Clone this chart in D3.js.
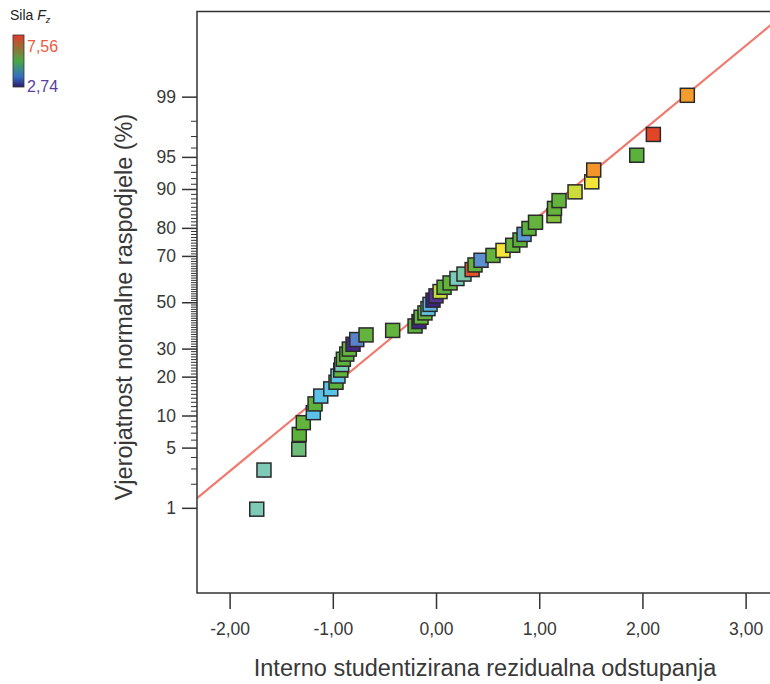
<!DOCTYPE html>
<html><head><meta charset="utf-8">
<script src="https://cdn.jsdelivr.net/npm/d3@7"></script>
<style>body{margin:0;background:#fff}svg{display:block;font-family:"Liberation Sans",Arial,Helvetica,sans-serif}</style>
</head><body><svg id="chart" width="770" height="684"></svg>
<script>
// ---- data, ordered by rank ----
const residuals = [-1.737,-1.667,-1.330,-1.325,-1.286,-1.189,-1.172,-1.117,-1.020,-0.969,
  -0.950,-0.923,-0.914,-0.898,-0.865,-0.840,-0.804,-0.768,-0.678,-0.420,
  -0.203,-0.165,-0.145,-0.107,-0.078,-0.058,-0.029,0.000,0.039,0.078,
  0.136,0.203,0.271,0.350,0.378,0.436,0.552,0.649,0.743,0.814,
  0.853,0.901,0.964,1.143,1.148,1.192,1.347,1.509,1.528,1.945,
  2.106,2.435];
const probabilities = [0.96,2.88,4.81,6.73,8.65,10.58,12.50,14.42,16.35,18.27,
  20.19,22.12,24.04,25.96,27.88,29.81,31.73,33.65,35.58,37.50,
  39.42,41.35,43.27,45.19,47.12,49.04,50.96,52.88,54.81,56.73,
  58.65,60.58,62.50,64.42,66.35,68.27,70.19,72.12,74.04,75.96,
  77.88,79.81,81.73,83.65,85.58,87.50,89.42,91.35,93.27,95.19,
  97.12,99.04];
const forceFz = [4.75,4.75,5.0,5.25,5.3,4.25,5.25,4.25,4.25,5.25,
  4.25,5.3,4.7,5.25,5.25,5.3,2.9,3.7,5.3,5.3,
  5.25,2.85,5.3,5.3,4.3,4.1,2.8,3.1,5.9,5.25,
  5.3,4.7,4.8,7.4,5.3,3.8,5.3,6.5,5.3,5.25,
  3.9,5.25,5.3,5.5,5.3,5.3,6.0,6.5,7.0,5.25,
  7.5,6.95];
const xTickValues = [-2,-1,0,1,2,3];
const yMajorTicks = [1,5,10,20,30,50,70,80,90,95,99];
const fzExtent = [2.74, 7.56];
const colorStops = [2.74,3.2,3.8,4.25,4.75,5.25,5.9,6.5,7.0,7.56];
const colorValues = ["#3a1f78","#5a3d9e","#5b8fd0","#5cc3e8","#7ecab6","#5cb03c","#c5da3a","#f5e53a","#f3952b","#e23b27"];
const legendStops = [0,0.5,0.8,1];
const legendColors = ["#e5392a","#47a845","#3470c4","#2c1a6c"];
const refIntercept = 0.013, refSlope = 0.963;   // z = a + b*residual
const xDomain = [-2.316, 3.304];
const zDomain = [-3.29, 3.29];

// inverse normal CDF (probability axis transform)
function probit(p){
  const a=[-39.69683028665376,220.9460984245205,-275.9285104469687,138.3577518672690,-30.66479806614716,2.506628277459239];
  const b=[-54.47609879822406,161.5858368580409,-155.6989798598866,66.80131188771972,-13.28068155288572];
  const c=[-0.007784894002430293,-0.3223964580411365,-2.400758277161838,-2.549732539343734,4.374664141464968,2.938163982698783];
  const d=[0.007784695709041462,0.3224671290700398,2.445134137142996,3.754408661907416];
  const pl=0.02425;
  let q,r;
  if(p<pl){q=Math.sqrt(-2*Math.log(p));return (((((c[0]*q+c[1])*q+c[2])*q+c[3])*q+c[4])*q+c[5])/((((d[0]*q+d[1])*q+d[2])*q+d[3])*q+1);}
  if(p>1-pl){q=Math.sqrt(-2*Math.log(1-p));return -(((((c[0]*q+c[1])*q+c[2])*q+c[3])*q+c[4])*q+c[5])/((((d[0]*q+d[1])*q+d[2])*q+d[3])*q+1);}
  q=p-0.5;r=q*q;
  return (((((a[0]*r+a[1])*r+a[2])*r+a[3])*r+a[4])*r+a[5])*q/(((((b[0]*r+b[1])*r+b[2])*r+b[3])*r+b[4])*r+1);
}

const svg = d3.select("#chart");
const plot = {left:197, top:11.5, right:777, bottom:593};
const x = d3.scaleLinear().domain(xDomain).range([plot.left, plot.right]);
const z = d3.scaleLinear().domain(zDomain).range([plot.bottom, plot.top]);
const yP = p => z(probit(p/100));
const color = d3.scaleLinear().domain(colorStops).range(colorValues).interpolate(d3.interpolateRgb);
const locale = d3.formatLocale({decimal:",", thousands:".", grouping:[3], currency:["","€"], minus:"-"});
const fmt = locale.format(".2f");
const textCol = "#383838";

svg.append("defs").append("clipPath").attr("id","clip")
  .append("rect").attr("x",plot.left).attr("y",plot.top)
  .attr("width",plot.right-plot.left).attr("height",plot.bottom-plot.top);

// reference line
const lineGen = d3.line().x(d=>x(d)).y(d=>z(refIntercept+refSlope*d));
svg.append("path").datum(xDomain).attr("d",lineGen)
  .attr("clip-path","url(#clip)")
  .attr("stroke","#f07a6e").attr("stroke-width",2.2).attr("fill","none");

// points
const sq = 14;
svg.append("g").attr("clip-path","url(#clip)").selectAll("rect").data(residuals).join("rect")
  .attr("x",(d,i)=>x(d)-sq/2).attr("y",(d,i)=>yP(probabilities[i])-sq/2)
  .attr("width",sq).attr("height",sq)
  .attr("fill",(d,i)=>color(forceFz[i]))
  .attr("stroke","#2a2a2a").attr("stroke-width",1.5);

// frame
svg.append("rect").attr("x",plot.left).attr("y",plot.top)
  .attr("width",plot.right-plot.left).attr("height",plot.bottom-plot.top)
  .attr("fill","none").attr("stroke","#333").attr("stroke-width",1.5);

// x axis
const xAxis = d3.axisBottom(x).tickValues(xTickValues).tickFormat(fmt).tickSize(16).tickPadding(14);
const gx = svg.append("g").attr("transform",`translate(0,${plot.bottom})`).call(xAxis);
gx.select(".domain").remove();
gx.selectAll(".tick line").attr("stroke","#333").attr("stroke-width",1.5);
gx.selectAll(".tick text").attr("fill",textCol).attr("font-size",17.5).attr("font-family","Liberation Sans, Arial, sans-serif");

// y axis: minor ticks every 1 %
const yMinor = d3.range(2,99).filter(v=>!yMajorTicks.includes(v));
const yAxisMinor = d3.axisLeft(z).tickValues(yMinor.map(v=>probit(v/100))).tickFormat("").tickSize(6);
const gyMin = svg.append("g").attr("transform",`translate(${plot.left},0)`).call(yAxisMinor);
gyMin.select(".domain").remove();
gyMin.selectAll(".tick line").attr("stroke","#333").attr("stroke-width",1);
const yAxisMajor = d3.axisLeft(z).tickValues(yMajorTicks.map(v=>probit(v/100)))
  .tickFormat((d,i)=>String(yMajorTicks[i])).tickSize(15).tickPadding(6);
const gy = svg.append("g").attr("transform",`translate(${plot.left},0)`).call(yAxisMajor);
gy.select(".domain").remove();
gy.selectAll(".tick line").attr("stroke","#333").attr("stroke-width",1.5);
gy.selectAll(".tick text").attr("fill",textCol).attr("font-size",17.5).attr("font-family","Liberation Sans, Arial, sans-serif");

// axis titles
svg.append("text").attr("x",(plot.left+plot.right)/2-2).attr("y",676)
  .attr("text-anchor","middle").attr("font-size",23.5).attr("fill",textCol)
  .text("Interno studentizirana rezidualna odstupanja");
svg.append("text").attr("transform","translate(132,307) rotate(-90)")
  .attr("text-anchor","middle").attr("font-size",23.5).attr("fill",textCol)
  .text("Vjerojatnost normalne raspodjele (%)");

// legend
const lg = svg.append("g");
const t = lg.append("text").attr("x",10).attr("y",20).attr("font-size",14).attr("fill","#222");
t.append("tspan").text("Sila ");
t.append("tspan").attr("font-style","italic").text("F");
t.append("tspan").attr("font-style","italic").attr("font-size",9).attr("dy",3).text("z");
const grad = svg.select("defs").append("linearGradient").attr("id","fzgrad")
  .attr("x1",0).attr("y1",0).attr("x2",0).attr("y2",1);
grad.selectAll("stop").data(legendStops).join("stop")
  .attr("offset",d=>d).attr("stop-color",(d,i)=>legendColors[i]);
lg.append("rect").attr("x",13).attr("y",35).attr("width",11).attr("height",52)
  .attr("fill","url(#fzgrad)").attr("stroke","#333").attr("stroke-width",0.8);
lg.append("text").attr("x",27).attr("y",52).attr("font-size",16).attr("fill","#ee5a3e")
  .text(fmt(fzExtent[1]));
lg.append("text").attr("x",27).attr("y",92).attr("font-size",16).attr("fill","#5a3f9c")
  .text(fmt(fzExtent[0]));
</script></body></html>
